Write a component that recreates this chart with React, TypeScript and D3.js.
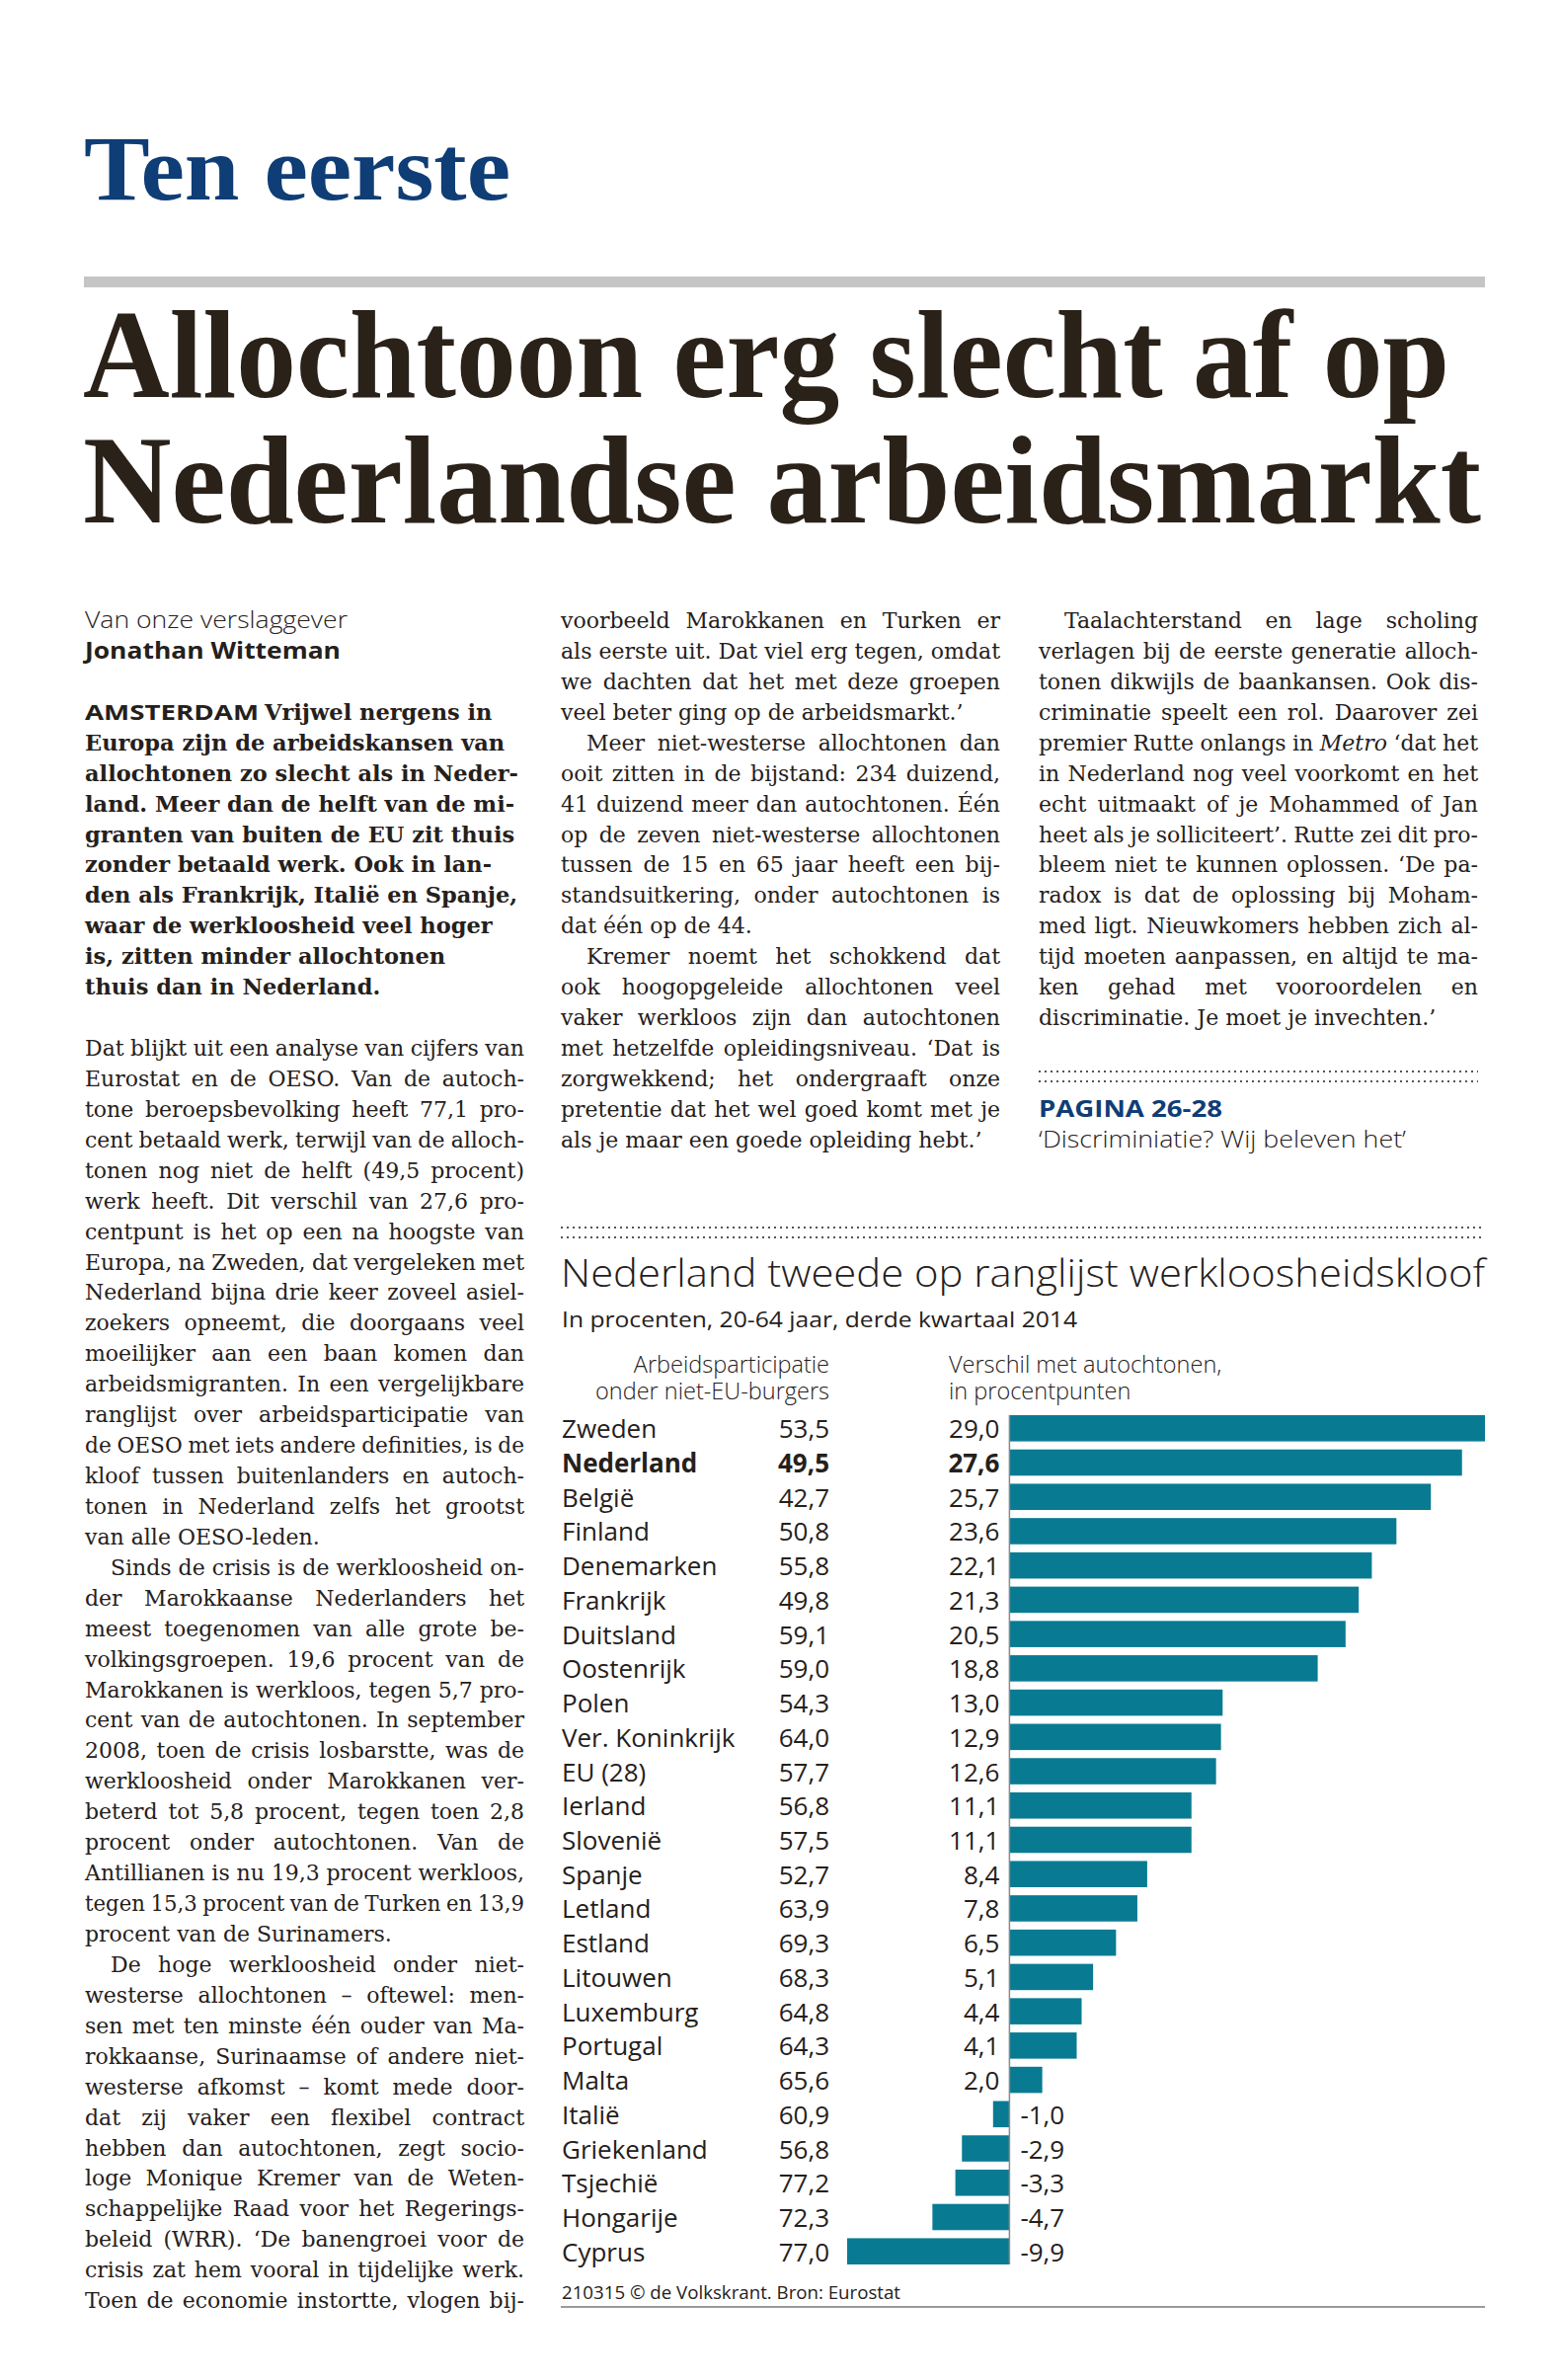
import React, { useEffect, useRef } from "react";
import * as d3 from "d3";

// ---------- chart data ----------
const countries = [
  "Zweden", "Nederland", "België", "Finland", "Denemarken", "Frankrijk", "Duitsland",
  "Oostenrijk", "Polen", "Ver. Koninkrijk", "EU (28)", "Ierland", "Slovenië", "Spanje",
  "Letland", "Estland", "Litouwen", "Luxemburg", "Portugal", "Malta", "Italië",
  "Griekenland", "Tsjechië", "Hongarije", "Cyprus",
];
const participation = [
  53.5, 49.5, 42.7, 50.8, 55.8, 49.8, 59.1, 59.0, 54.3, 64.0, 57.7, 56.8, 57.5, 52.7,
  63.9, 69.3, 68.3, 64.8, 64.3, 65.6, 60.9, 56.8, 77.2, 72.3, 77.0,
];
const gap = [
  29.0, 27.6, 25.7, 23.6, 22.1, 21.3, 20.5, 18.8, 13.0, 12.9, 12.6, 11.1, 11.1, 8.4,
  7.8, 6.5, 5.1, 4.4, 4.1, 2.0, -1.0, -2.9, -3.3, -4.7, -9.9,
];
const highlight = "Nederland";

const chartTitle = "Nederland tweede op ranglijst werkloosheidskloof";
const chartSubtitle = "In procenten, 20-64 jaar, derde kwartaal 2014";
const headerLeft = ["Arbeidsparticipatie", "onder niet-EU-burgers"];
const headerRight = ["Verschil met autochtonen,", "in procentpunten"];
const sourceNote = "210315 © de Volkskrant. Bron: Eurostat";

// ---------- article text ----------
const kicker = "Ten eerste";
const headline = ["Allochtoon erg slecht af op", "Nederlandse arbeidsmarkt"];
const bylineIntro = "Van onze verslaggever";
const bylineName = "Jonathan Witteman";
const dateline = "AMSTERDAM";
const leadLines = [
  "Vrijwel nergens in",
  "Europa zijn de arbeidskansen van",
  "allochtonen zo slecht als in Neder-",
  "land. Meer dan de helft van de mi-",
  "granten van buiten de EU zit thuis",
  "zonder betaald werk. Ook in lan-",
  "den als Frankrijk, Italië en Spanje,",
  "waar de werkloosheid veel hoger",
  "is, zitten minder allochtonen",
  "thuis dan in Nederland.",
];
type Para = { indent: boolean; lastJustified?: boolean; lines: string[] };
const col1Paras: Para[] = [
  {
    indent: false,
    lines: [
      "Dat blijkt uit een analyse van cijfers van",
      "Eurostat en de OESO. Van de autoch-",
      "tone beroepsbevolking heeft 77,1 pro-",
      "cent betaald werk, terwijl van de alloch-",
      "tonen nog niet de helft (49,5 procent)",
      "werk heeft. Dit verschil van 27,6 pro-",
      "centpunt is het op een na hoogste van",
      "Europa, na Zweden, dat vergeleken met",
      "Nederland bijna drie keer zoveel asiel-",
      "zoekers opneemt, die doorgaans veel",
      "moeilijker aan een baan komen dan",
      "arbeidsmigranten. In een vergelijkbare",
      "ranglijst over arbeidsparticipatie van",
      "de OESO met iets andere definities, is de",
      "kloof tussen buitenlanders en autoch-",
      "tonen in Nederland zelfs het grootst",
      "van alle OESO-leden.",
    ],
  },
  {
    indent: true,
    lines: [
      "Sinds de crisis is de werkloosheid on-",
      "der Marokkaanse Nederlanders het",
      "meest toegenomen van alle grote be-",
      "volkingsgroepen. 19,6 procent van de",
      "Marokkanen is werkloos, tegen 5,7 pro-",
      "cent van de autochtonen. In september",
      "2008, toen de crisis losbarstte, was de",
      "werkloosheid onder Marokkanen ver-",
      "beterd tot 5,8 procent, tegen toen 2,8",
      "procent onder autochtonen. Van de",
      "Antillianen is nu 19,3 procent werkloos,",
      "tegen 15,3 procent van de Turken en 13,9",
      "procent van de Surinamers.",
    ],
  },
  {
    indent: true,
    lastJustified: true,
    lines: [
      "De hoge werkloosheid onder niet-",
      "westerse allochtonen – oftewel: men-",
      "sen met ten minste één ouder van Ma-",
      "rokkaanse, Surinaamse of andere niet-",
      "westerse afkomst – komt mede door-",
      "dat zij vaker een flexibel contract",
      "hebben dan autochtonen, zegt socio-",
      "loge Monique Kremer van de Weten-",
      "schappelijke Raad voor het Regerings-",
      "beleid (WRR). ‘De banengroei voor de",
      "crisis zat hem vooral in tijdelijke werk.",
      "Toen de economie instortte, vlogen bij-",
    ],
  },
];
const col2Paras: Para[] = [
  {
    indent: false,
    lines: [
      "voorbeeld Marokkanen en Turken er",
      "als eerste uit. Dat viel erg tegen, omdat",
      "we dachten dat het met deze groepen",
      "veel beter ging op de arbeidsmarkt.’",
    ],
  },
  {
    indent: true,
    lines: [
      "Meer niet-westerse allochtonen dan",
      "ooit zitten in de bijstand: 234 duizend,",
      "41 duizend meer dan autochtonen. Één",
      "op de zeven niet-westerse allochtonen",
      "tussen de 15 en 65 jaar heeft een bij-",
      "standsuitkering, onder autochtonen is",
      "dat één op de 44.",
    ],
  },
  {
    indent: true,
    lines: [
      "Kremer noemt het schokkend dat",
      "ook hoogopgeleide allochtonen veel",
      "vaker werkloos zijn dan autochtonen",
      "met hetzelfde opleidingsniveau. ‘Dat is",
      "zorgwekkend; het ondergraaft onze",
      "pretentie dat het wel goed komt met je",
      "als je maar een goede opleiding hebt.’",
    ],
  },
];
const col3Paras: Para[] = [
  {
    indent: true,
    lines: [
      "Taalachterstand en lage scholing",
      "verlagen bij de eerste generatie alloch-",
      "tonen dikwijls de baankansen. Ook dis-",
      "criminatie speelt een rol. Daarover zei",
      "premier Rutte onlangs in *Metro* ‘dat het",
      "in Nederland nog veel voorkomt en het",
      "echt uitmaakt of je Mohammed of Jan",
      "heet als je solliciteert’. Rutte zei dit pro-",
      "bleem niet te kunnen oplossen. ‘De pa-",
      "radox is dat de oplossing bij Moham-",
      "med ligt. Nieuwkomers hebben zich al-",
      "tijd moeten aanpassen, en altijd te ma-",
      "ken gehad met vooroordelen en",
      "discriminatie. Je moet je invechten.’",
    ],
  },
];
const refTitle = "PAGINA 26-28";
const refSub = "‘Discriminiatie? Wij beleven het’";

// ---------- styling ----------
const SANS = "'Open Sans', 'Noto Sans', sans-serif";
const SERIF = "'DejaVu Serif', serif";
const HEAD = "'Liberation Serif', 'Times New Roman', serif";
const INK = "#25201b";
const BLUE = "#0f3d76";
const TEAL = "#087b93";

const G = (n: number) => 636 + 30.93 * n; // baseline grid
const COLW = 445;
const INDENT = 26;
const BODY_SIZE = 22;

function parts(s: string) {
  const seg = s.split("*");
  return seg.map((t, i) =>
    i % 2 === 1 ? (
      <tspan key={i} fontStyle="italic">{t}</tspan>
    ) : (
      <tspan key={i}>{t}</tspan>
    )
  );
}

function Column({ x, start, paras }: { x: number; start: number; paras: Para[] }) {
  const out: React.ReactNode[] = [];
  let n = start;
  paras.forEach((p, pi) => {
    p.lines.forEach((line, li) => {
      const first = li === 0 && p.indent;
      const last = li === p.lines.length - 1 && !p.lastJustified;
      const lx = x + (first ? INDENT : 0);
      out.push(
        <text
          key={`${pi}-${li}`}
          className={last ? "fitmax" : "just"}
          data-w={COLW - (first ? INDENT : 0)}
          x={lx}
          y={G(n)}
          fontFamily={SERIF}
          fontSize={BODY_SIZE}
          fill={INK}
        >
          {parts(line)}
        </text>
      );
      n++;
    });
  });
  return <g>{out}</g>;
}

export default function App() {
  const ref = useRef<SVGSVGElement>(null);

  useEffect(() => {
    const run = () => {
      if (!ref.current) return;
      const svg = d3.select(ref.current);
      svg.selectAll<SVGTextElement, unknown>("text.just").each(function () {
        const el = this;
        const target = +(el.getAttribute("data-w") || 0);
        el.style.wordSpacing = "0px";
        el.removeAttribute("textLength");
        const nat = el.getComputedTextLength();
        const spaces = ((el.textContent || "").match(/ /g) || []).length;
        let ws = spaces ? (target - nat) / spaces : 0;
        if (!spaces || ws < -1.2) {
          ws = spaces ? -1.2 : 0;
          el.setAttribute("textLength", String(target));
          el.setAttribute("lengthAdjust", "spacingAndGlyphs");
        }
        el.style.wordSpacing = `${ws}px`;
      });
      // last lines: only compress when they would run past the column
      svg.selectAll<SVGTextElement, unknown>("text.fitmax").each(function () {
        const el = this;
        const target = +(el.getAttribute("data-w") || 0);
        el.removeAttribute("textLength");
        const nat = el.getComputedTextLength();
        if (nat > target) {
          el.setAttribute("textLength", String(target));
          el.setAttribute("lengthAdjust", "spacingAndGlyphs");
        }
      });
    };
    const f = (document as any).fonts;
    if (f && f.ready) f.ready.then(run);
    else run();
  }, []);

  // chart scales
  const x = d3
    .scaleLinear()
    .domain([d3.min(gap) as number, d3.max(gap) as number])
    .range([858, 1504]);
  const y = d3
    .scaleBand<string>()
    .domain(countries)
    .range([1433, 2293])
    .paddingInner(0.235)
    .paddingOuter(0);
  const nl = d3.formatLocale({
    decimal: ",",
    thousands: ".",
    grouping: [3],
    currency: ["€", ""],
    minus: "-",
  } as any);
  const fmt = nl.format(".1f");
  const x0 = x(0);
  const bw = y.bandwidth();

  return (
    <svg
      ref={ref}
      width={1580}
      height={2410}
      viewBox="0 0 1580 2410"
      style={{ position: "absolute", left: 0, top: 0, background: "#fff" }}
    >
      <rect x={0} y={0} width={1580} height={2410} fill="#fff" />

      {/* kicker */}
      <text
        x={85}
        y={202}
        fontFamily={HEAD}
        fontWeight="bold"
        fontSize={94}
        fill={BLUE}
        textLength={432}
        lengthAdjust="spacingAndGlyphs"
      >
        {kicker}
      </text>
      <rect x={85} y={280} width={1419} height={11} fill="#c5c5c5" />

      {/* headline */}
      {headline.map((h, i) => (
        <text
          key={h}
          x={84}
          y={402 + i * 127}
          fontFamily={HEAD}
          fontWeight="bold"
          fontSize={128}
          fill="#2a2119"
          textLength={i === 0 ? 1384 : 1416}
          lengthAdjust="spacingAndGlyphs"
        >
          {h}
        </text>
      ))}

      {/* byline */}
      <text x={86} y={G(0)} fontFamily={SANS} fontWeight={300} fontSize={24} fill={INK}
        textLength={266} lengthAdjust="spacingAndGlyphs">
        {bylineIntro}
      </text>
      <text x={86} y={G(1)} fontFamily={SANS} fontWeight={700} fontSize={24} fill={INK}
        textLength={259} lengthAdjust="spacingAndGlyphs">
        {bylineName}
      </text>

      {/* lead */}
      <text x={86} y={G(3)} fontFamily={SANS} fontWeight={700} fontSize={22} fill={INK}
        textLength={176} lengthAdjust="spacingAndGlyphs">
        {dateline}
      </text>
      {leadLines.map((l, i) => (
        <text
          key={i}
          className="fitmax"
          data-w={i === 0 ? 262 : COLW}
          x={i === 0 ? 268 : 86}
          y={G(3 + i)}
          fontFamily={SERIF}
          fontWeight="bold"
          fontSize={22.5}
          fill={INK}
        >
          {l}
        </text>
      ))}

      <Column x={86} start={14} paras={col1Paras} />
      <Column x={568} start={0} paras={col2Paras} />
      <Column x={1052} start={0} paras={col3Paras} />

      {/* reference box col3 */}
      {[1085, 1095].map((yy) => (
        <line key={yy} x1={1052} x2={1497} y1={yy} y2={yy} stroke="#555"
          strokeWidth={2} strokeDasharray="2 4" />
      ))}
      <text x={1052} y={G(16)} fontFamily={SANS} fontWeight={700} fontSize={23} fill={BLUE}
        textLength={186} lengthAdjust="spacingAndGlyphs">
        {refTitle}
      </text>
      <text x={1052} y={G(17)} fontFamily={SANS} fontWeight={300} fontSize={24} fill={INK}
        textLength={372} lengthAdjust="spacingAndGlyphs">
        {refSub}
      </text>

      {/* ---------- chart ---------- */}
      {[1243, 1253].map((yy) => (
        <line key={yy} x1={568} x2={1504} y1={yy} y2={yy} stroke="#555"
          strokeWidth={2} strokeDasharray="2 4" />
      ))}
      <text x={568} y={1303} fontFamily={SANS} fontWeight={300} fontSize={39} fill={INK}
        textLength={936} lengthAdjust="spacingAndGlyphs">
        {chartTitle}
      </text>
      <text x={569} y={1344} fontFamily={SANS} fontWeight={400} fontSize={21} fill={INK}
        textLength={522} lengthAdjust="spacingAndGlyphs">
        {chartSubtitle}
      </text>
      {headerLeft.map((h, i) => (
        <text key={h} x={840} y={1390 + i * 27} textAnchor="end" fontFamily={SANS}
          fontWeight={300} fontSize={23.5} fill={INK}>
          {h}
        </text>
      ))}
      {headerRight.map((h, i) => (
        <text key={h} x={961} y={1390 + i * 27} fontFamily={SANS}
          fontWeight={300} fontSize={23.5} fill={INK}>
          {h}
        </text>
      ))}

      {countries.map((c, i) => {
        const v = gap[i];
        const yy = y(c) as number;
        const base = yy + bw / 2 + 10;
        const bold = c === highlight;
        return (
          <g key={c}>
            <rect
              x={Math.min(x(v), x0)}
              y={yy}
              width={Math.abs(x(v) - x0)}
              height={bw}
              fill={TEAL}
            />
            <text x={569} y={base} fontFamily={SANS} fontSize={26}
              fontWeight={bold ? 700 : 400} fill={INK}>
              {c}
            </text>
            <text x={840} y={base} textAnchor="end" fontFamily={SANS} fontSize={26}
              fontWeight={bold ? 700 : 400} fill={INK}>
              {fmt(participation[i])}
            </text>
            <text
              x={v >= 0 ? x0 - 10 : x0 + 11}
              y={base}
              textAnchor={v >= 0 ? "end" : "start"}
              fontFamily={SANS}
              fontSize={26}
              fontWeight={bold ? 700 : 400}
              fill={INK}
            >
              {fmt(v)}
            </text>
          </g>
        );
      })}
      <line
        x1={x0}
        x2={x0}
        y1={y(countries[0]) as number}
        y2={(y(countries[countries.length - 1]) as number) + bw}
        stroke="#8a8a8a"
        strokeWidth={1.5}
      />

      <text x={569} y={2328} fontFamily={SANS} fontSize={19} fill={INK}
        textLength={343} lengthAdjust="spacingAndGlyphs">
        {sourceNote}
      </text>
      <line x1={568} x2={1504} y1={2336} y2={2336} stroke="#9a9a9a" strokeWidth={2} />
    </svg>
  );
}
